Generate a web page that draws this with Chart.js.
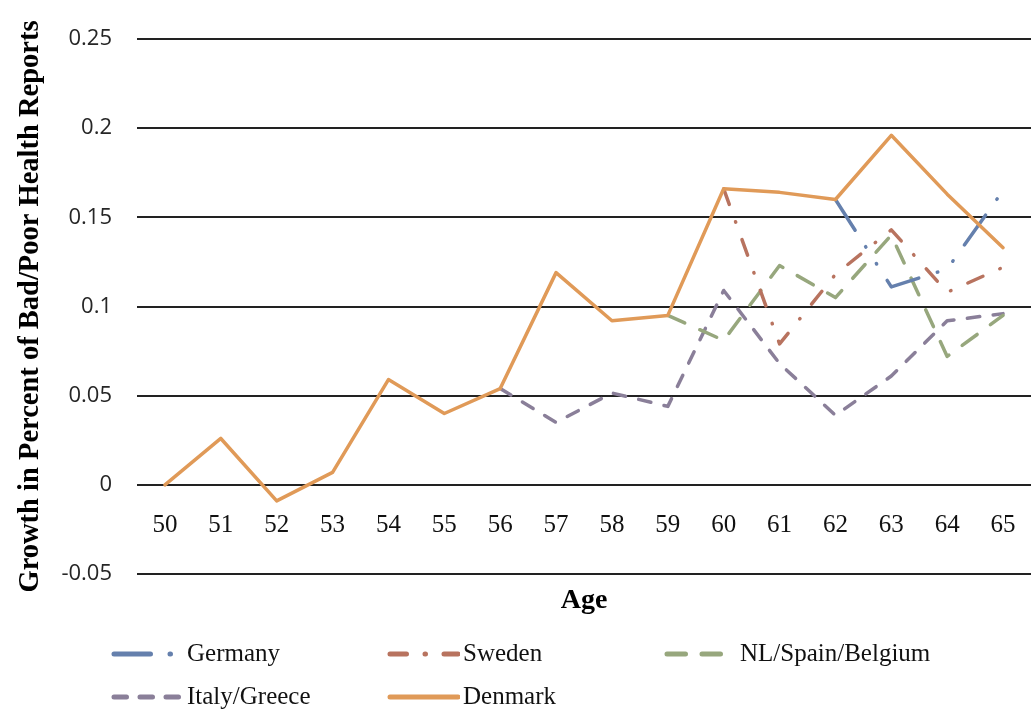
<!DOCTYPE html>
<html>
<head>
<meta charset="utf-8">
<title>Growth in Bad/Poor Health Reports by Age</title>
<script src="https://cdn.jsdelivr.net/npm/chart.js@4.4.0/dist/chart.umd.min.js"></script>
<style>
  body { margin: 0; background: #fff; }
</style>
</head>
<body>
<canvas id="health-chart" width="1031" height="718"></canvas>
<script>
// values
var ages = ["50", "51", "52", "53", "54", "55", "56", "57", "58", "59", "60", "61", "62", "63", "64", "65"];
var germany = [null, null, null, null, null, null, null, null, null, null, null, null, 0.160, 0.111, 0.121, 0.165];
var sweden = [null, null, null, null, null, null, null, null, null, null, 0.166, 0.079, 0.118, 0.143, 0.108, 0.122];
var nlSpainBelgium = [null, null, null, null, null, null, null, null, null, 0.095, 0.081, 0.123, 0.105, 0.140, 0.072, 0.095];
var italyGreece = [null, null, null, null, null, null, 0.054, 0.035, 0.0515, 0.044, 0.109, 0.068, 0.039, 0.061, 0.092, 0.096];
var denmark = [0, 0.026, -0.009, 0.007, 0.059, 0.040, 0.054, 0.119, 0.092, 0.095, 0.166, 0.164, 0.160, 0.196, 0.163, 0.133];

var serif = "'Liberation Serif', 'Times New Roman', serif";

// legend drawn in two rows of three fixed columns, like the original
var gridLegend = {
    id: 'gridLegend',
    afterDraw: function(chart) {
        var c = chart.ctx;
        var cols = [112, 388, 665];
        var rows = [654, 697];
        chart.data.datasets.forEach(function(ds, i) {
            var x = cols[i % 3];
            var y = rows[Math.floor(i / 3)];
            c.save();
            c.beginPath();
            c.rect(x - 4, y - 10, 76, 20);
            c.clip();
            c.strokeStyle = ds.borderColor;
            c.lineWidth = 5;
            c.lineCap = 'round';
            c.setLineDash(ds.borderDash || []);
            c.beginPath();
            c.moveTo(x + 2, y);
            c.lineTo(x + 70, y);
            c.stroke();
            c.restore();
            c.save();
            c.fillStyle = '#111';
            c.font = "25px " + serif;
            c.textBaseline = 'middle';
            c.textAlign = 'left';
            c.fillText(ds.label, x + 75, y);
            c.restore();
        });
    }
};

var ctx = document.getElementById("health-chart").getContext("2d");
var healthChart = new Chart(ctx, {
    type: "line",
    data: {
        labels: ages,
        datasets: [{
                label: "Germany",
                data: germany,
                borderColor: "#6580ad",
                borderDash: [36.5, 19.5, 0.5, 19.5, 0.5, 19.5]
            },
            {
                label: "Sweden",
                data: sweden,
                borderColor: "#b8735f",
                borderDash: [16.5, 18.5, 0.5, 18.5]
            },
            {
                label: "NL/Spain/Belgium",
                data: nlSpainBelgium,
                borderColor: "#97a77d",
                borderDash: [18.5, 16.5]
            },
            {
                label: "Italy/Greece",
                data: italyGreece,
                borderColor: "#8a7f99",
                borderDash: [12.5, 13.5]
            },
            {
                label: "Denmark",
                data: denmark,
                borderColor: "#e09a58",
                borderDash: [],
                order: -1
            }
        ]
    },
    options: {
        responsive: false,
        animation: false,
        layout: {
            padding: { top: 39, right: 0, bottom: 100, left: 0 }
        },
        datasets: {
            line: {
                borderWidth: 3.5,
                borderCapStyle: 'round',
                borderJoinStyle: 'round',
                pointRadius: 0,
                pointHoverRadius: 0,
                fill: false,
                tension: 0
            }
        },
        scales: {
            x: {
                type: 'category',
                position: { y: 0 },
                offset: true,
                // grid hidden, tick length only used to push labels below the zero line
                grid: { display: false, drawTicks: true, tickLength: 26 },
                border: { display: false },
                ticks: {
                    font: { family: serif, size: 25 },
                    color: '#111',
                    padding: 0,
                    maxRotation: 0,
                    autoSkip: false
                }
            },
            x2: {
                type: 'category',
                position: 'bottom',
                offset: true,
                grid: { display: false, drawTicks: false },
                border: { display: false },
                ticks: { display: false },
                title: {
                    display: true,
                    text: 'Age',
                    color: '#000',
                    font: { family: serif, size: 28, weight: 'bold' },
                    padding: { top: 8, bottom: 0 }
                },
                afterFit: function(scale) { scale.height = 44; }
            },
            y: {
                min: -0.05,
                max: 0.25,
                grid: { color: '#222', lineWidth: 2, drawTicks: false },
                border: { display: false },
                ticks: {
                    stepSize: 0.05,
                    padding: 25,
                    color: '#262626',
                    font: { family: "'Open Sans', sans-serif", size: 22 },
                    callback: function(v) { return String(Math.round(v * 100) / 100); }
                },
                title: {
                    display: true,
                    text: 'Growth in Percent of Bad/Poor Health Reports',
                    color: '#000',
                    font: { family: serif, size: 28.5, weight: 'bold' },
                    padding: { top: 14, bottom: 0 }
                },
                afterFit: function(scale) { scale.width = 137; }
            }
        },
        plugins: {
            legend: { display: false },
            tooltip: { enabled: false }
        }
    },
    plugins: [gridLegend]
});
</script>
</body>
</html>
